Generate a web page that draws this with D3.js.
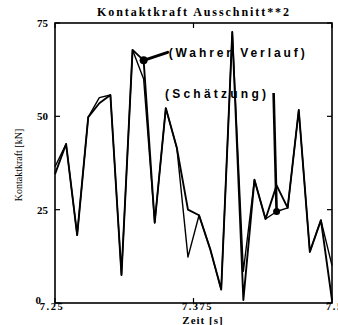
<!DOCTYPE html>
<html>
<head>
<meta charset="utf-8">
<script src="https://cdn.jsdelivr.net/npm/d3@7"></script>
<style>
  body { margin: 0; background: #fff; }
  svg { display: block; }
  text { fill: #000; }
</style>
</head>
<body>
<svg id="chart" width="338" height="325"></svg>
<script>
// Kontaktkraft, true curve vs. estimate
let times = [7.25, 7.26, 7.27, 7.28, 7.29, 7.30, 7.31, 7.32, 7.33, 7.34, 7.35, 7.36, 7.37,
             7.38, 7.39, 7.40, 7.41, 7.42, 7.43, 7.44, 7.45, 7.46, 7.47, 7.48, 7.49, 7.50]
let trueForce = [34.5, 42.6, 18.2, 49.8, 53.5, 55.7, 7.5, 67.8, 65, 21.5, 52.2, 41.5, 25,
                 23.5, 14.5, 3.6, 72.6, 0.8, 33, 22.5, 31.5, 25.5, 51.7, 13.7, 22.2, 0.8]
let estForce = [36.5, 42.6, 18.2, 49.8, 55, 55.7, 7.5, 67.8, 60, 21.5, 52.2, 41.5, 12.3,
                23.5, 14.5, 3.6, 72.6, 8.5, 33, 22.5, 24.5, 25.5, 51.7, 13.7, 22.2, 10]
let xTicks = [7.25, 7.375, 7.5]
let yTicks = [0, 25, 50, 75]

let svg = d3.select("#chart")
let pLeft = 55, pRight = 332, pTop = 23, pBottom = 303

let x = d3.scaleLinear().domain([7.25, 7.5]).range([pLeft, pRight])
let y = d3.scaleLinear().domain([0, 75]).range([pBottom, pTop])

let serif = "'Liberation Serif', 'DejaVu Serif', serif"
let sans = "'Liberation Sans', Arial, sans-serif"

// title
svg.append("text")
  .attr("x", 193).attr("y", 16)
  .attr("text-anchor", "middle")
  .attr("font-family", serif).attr("font-weight", "bold").attr("font-size", 12)
  .attr("textLength", 192).attr("lengthAdjust", "spacing")
  .text("Kontaktkraft Ausschnitt**2")

// frame
svg.append("rect")
  .attr("x", pLeft).attr("y", pTop)
  .attr("width", pRight - pLeft).attr("height", pBottom - pTop)
  .attr("fill", "none").attr("stroke", "#000").attr("stroke-width", 1.6)

// inward ticks, MATLAB style
let g = svg.append("g").attr("stroke", "#000").attr("stroke-width", 1.2)
yTicks.forEach(function (v) {
  g.append("line").attr("x1", pLeft).attr("x2", pLeft + 5).attr("y1", y(v)).attr("y2", y(v))
  g.append("line").attr("x1", pRight - 5).attr("x2", pRight).attr("y1", y(v)).attr("y2", y(v))
})
xTicks.forEach(function (v) {
  g.append("line").attr("x1", x(v)).attr("x2", x(v)).attr("y1", pBottom).attr("y2", pBottom - 5)
  g.append("line").attr("x1", x(v)).attr("x2", x(v)).attr("y1", pTop).attr("y2", pTop + 5)
})

// tick labels
svg.selectAll(".ylab")
  .data(yTicks)
  .enter()
  .append("text")
  .attr("x", function (d) { return d === 0 ? 41 : 48 })
  .attr("y", function (d) { return d === 0 ? y(d) + 1 : y(d) + 4 })
  .attr("text-anchor", "end")
  .attr("font-family", serif).attr("font-weight", "bold").attr("font-size", 11)
  .text(function (d) { return d })

// the last label runs off the right edge, as in the scan
svg.selectAll(".xlab")
  .data(xTicks)
  .enter()
  .append("text")
  .attr("x", function (d, i) { return i === 0 ? x(d) - 3 : i === 2 ? x(d) - 6 : x(d) + 4 })
  .attr("y", 310)
  .attr("text-anchor", function (d, i) { return i === 2 ? "start" : "middle" })
  .attr("font-family", serif).attr("font-weight", "bold").attr("font-size", 10.5)
  .attr("letter-spacing", 1.5)
  .text(function (d) { return d })

// axis labels
svg.append("text")
  .attr("x", 203).attr("y", 324)
  .attr("text-anchor", "middle")
  .attr("font-family", serif).attr("font-weight", "bold").attr("font-size", 11)
  .attr("letter-spacing", 1)
  .text("Zeit [s]")

svg.append("text")
  .attr("transform", "translate(22,165) rotate(-90)")
  .attr("text-anchor", "middle")
  .attr("font-family", serif).attr("font-size", 10)
  .text("Kontaktkraft [kN]")

// curves
let line = d3.line()
  .x(function (d, i) { return x(times[i]) })
  .y(function (d) { return y(d) })

svg.append("path")
  .datum(estForce)
  .attr("d", line)
  .attr("fill", "none").attr("stroke", "#000").attr("stroke-width", 1.4)
  .attr("stroke-linejoin", "round")

svg.append("path")
  .datum(trueForce)
  .attr("d", line)
  .attr("fill", "none").attr("stroke", "#000").attr("stroke-width", 1.9)
  .attr("stroke-linejoin", "round")

// annotations
let wx = x(times[8]), wy = y(trueForce[8])
svg.append("line")
  .attr("x1", wx).attr("y1", wy).attr("x2", wx + 24).attr("y2", wy - 8)
  .attr("stroke", "#000").attr("stroke-width", 3).attr("stroke-linecap", "round")
svg.append("circle").attr("cx", wx).attr("cy", wy).attr("r", 4)
svg.append("text")
  .attr("x", wx + 25).attr("y", wy - 3)
  .attr("font-family", sans).attr("font-weight", "bold").attr("font-size", 12)
  .attr("textLength", 136).attr("lengthAdjust", "spacing")
  .text("(Wahrer Verlauf)")

let sx = x(times[20]), sy = y(estForce[20])
svg.append("line")
  .attr("x1", sx).attr("y1", sy).attr("x2", sx - 3).attr("y2", 93)
  .attr("stroke", "#000").attr("stroke-width", 2.6)
svg.append("circle").attr("cx", sx).attr("cy", sy).attr("r", 3.5)
svg.append("text")
  .attr("x", 165).attr("y", 98)
  .attr("font-family", sans).attr("font-weight", "bold").attr("font-size", 12)
  .attr("textLength", 101).attr("lengthAdjust", "spacing")
  .text("(Schätzung)")
</script>
</body>
</html>
